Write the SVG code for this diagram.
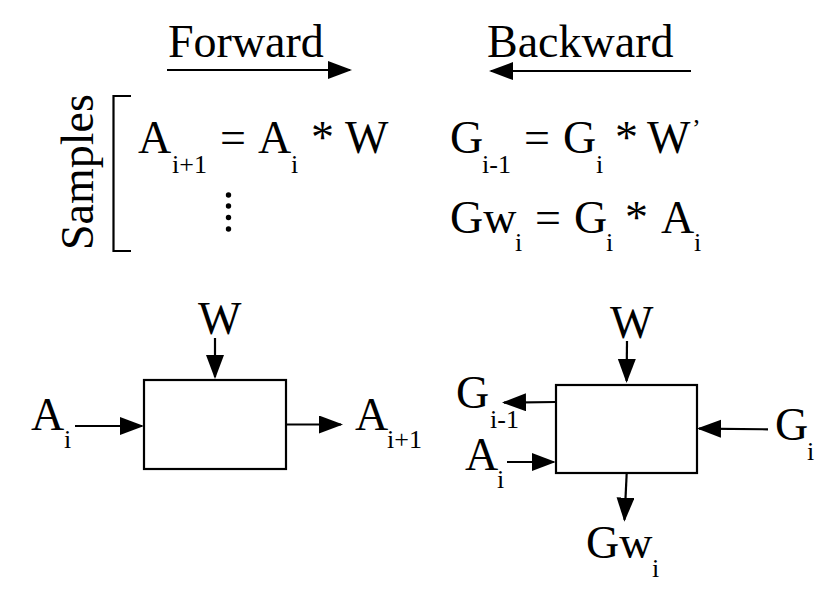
<svg xmlns="http://www.w3.org/2000/svg" width="833" height="593" viewBox="0 0 833 593">
<defs>
<marker id="ah" markerUnits="userSpaceOnUse" markerWidth="26" markerHeight="20" refX="22" refY="9" orient="auto">
<path d="M0,0 L24,9 L0,18 z" fill="#000"/>
</marker>
<style>
text{font-family:"Liberation Serif","Times New Roman",serif;fill:#000}
.m{font-size:46px}
.s{font-size:26px}
.c{stroke:#000;stroke-width:2.2;fill:none;marker-end:url(#ah)}
.box{fill:#fff;stroke:#000;stroke-width:2.2}
</style>
</defs>
<rect width="833" height="593" fill="#fff"/>
<g id="title-forward"><text class="m" x="168" y="57">Forward</text></g>
<g id="title-backward"><text class="m" x="487" y="57">Backward</text></g>
<g id="samples">
<text class="m" transform="translate(93,250) rotate(-90)">Samples</text>
<path d="M131,96 H113.5 V251 H131" fill="none" stroke="#000" stroke-width="2.2"/>
</g>
<g id="eq-forward">
<text class="m" x="138" y="153">A</text><text class="s" x="172" y="173">i+1</text>
<text class="m" x="220" y="153">=</text>
<text class="m" x="258" y="153">A</text><text class="s" x="291" y="173">i</text>
<text class="m" x="311" y="153">*</text>
<text class="m" x="345" y="153">W</text>
<g fill="#000"><circle cx="228.5" cy="195" r="2.7"/><circle cx="228.5" cy="206" r="2.7"/><circle cx="228.5" cy="217.5" r="2.7"/><circle cx="228.5" cy="229" r="2.7"/></g>
</g>
<g id="eq-backward">
<text class="m" x="450" y="153">G</text><text class="s" x="482" y="173">i-1</text>
<text class="m" x="524" y="153">=</text>
<text class="m" x="563" y="153">G</text><text class="s" x="596" y="173">i</text>
<text class="m" x="615" y="153">*</text>
<text class="m" x="647" y="153">W</text><text class="s" x="692" y="137">’</text>
<text class="m" x="450" y="233">Gw</text><text class="s" x="515" y="251">i</text>
<text class="m" x="535" y="233">=</text>
<text class="m" x="574" y="233">G</text><text class="s" x="606" y="251">i</text>
<text class="m" x="625" y="233">*</text>
<text class="m" x="661" y="233">A</text><text class="s" x="694" y="251">i</text>
</g>
<g id="forward-node">
<rect class="box" x="144" y="380" width="142" height="89"/>
</g>
<g id="backward-node">
<rect class="box" x="556" y="385" width="141" height="88"/>
</g>
<g id="labels">
<text class="m" x="198" y="334">W</text>
<text class="m" x="31" y="430">A</text><text class="s" x="64" y="448">i</text>
<text class="m" x="355" y="430">A</text><text class="s" x="387" y="448">i+1</text>
<text class="m" x="610" y="338">W</text>
<text class="m" x="456" y="408">G</text><text class="s" x="490" y="428">i-1</text>
<text class="m" x="465" y="470">A</text><text class="s" x="497" y="488">i</text>
<text class="m" x="775" y="440">G</text><text class="s" x="807" y="460">i</text>
<text class="m" x="586" y="558">Gw</text><text class="s" x="652" y="577">i</text>
</g>
<g id="connectors">
<line class="c" x1="167" y1="70" x2="350" y2="70"/>
<line class="c" x1="691" y1="71" x2="491" y2="71"/>
<line class="c" x1="215" y1="338" x2="215" y2="377"/>
<line class="c" x1="75" y1="426" x2="142" y2="426"/>
<line class="c" x1="286" y1="424.5" x2="341" y2="424.5"/>
<line class="c" x1="627" y1="341" x2="626.6" y2="381"/>
<line class="c" x1="556" y1="402" x2="504" y2="402.6"/>
<line class="c" x1="507" y1="462" x2="553.7" y2="462"/>
<line class="c" x1="768" y1="429.3" x2="699" y2="428.6"/>
<line class="c" x1="626.7" y1="473" x2="624.5" y2="519.7"/>
</g>
</svg>
